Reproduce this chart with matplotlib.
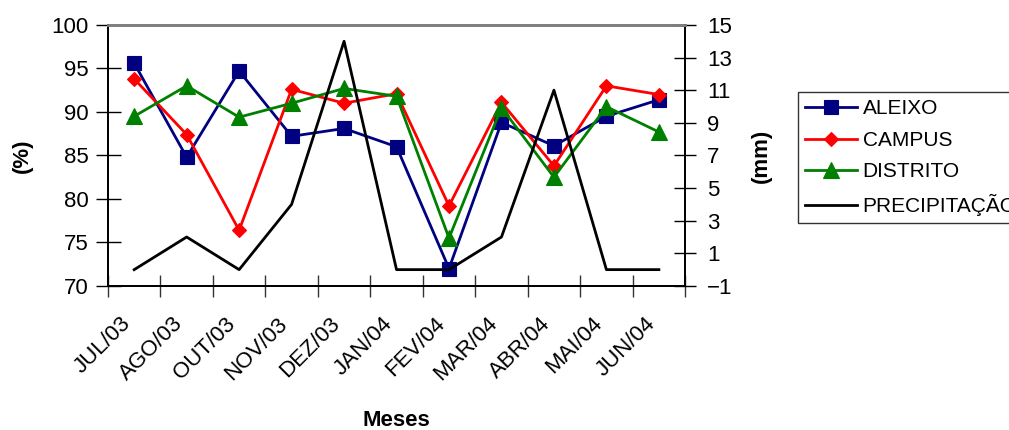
import matplotlib
matplotlib.use("Agg")
import matplotlib.pyplot as plt
from matplotlib.lines import Line2D
from matplotlib.transforms import ScaledTranslation

plt.rcParams['font.family'] = ['Liberation Sans', 'DejaVu Sans']

meses = ["JUL/03", "AGO/03", "OUT/03", "NOV/03", "DEZ/03", "JAN/04",
         "FEV/04", "MAR/04", "ABR/04", "MAI/04", "JUN/04"]
aleixo = [95.6, 84.8, 94.7, 87.2, 88.1, 86.0, 72.0, 88.8, 86.1, 89.5, 91.4]
campus = [93.8, 87.4, 76.4, 92.6, 91.0, 92.1, 79.2, 91.1, 83.8, 93.0, 92.0]
distrito = [89.5, 93.0, 89.4, 91.0, 92.7, 91.8, 75.5, 90.5, 82.5, 90.6, 87.7]
precipitacao = [0, 2, 0, 4, 14, 0, 0, 2, 11, 0, 0]

AZUL, VERMELHO, VERDE = '#000080', '#ff0000', '#008000'

fig = plt.figure(figsize=(10.09, 4.30), dpi=100)
ax = fig.add_axes([0.107, 0.335, 0.572, 0.607])
ax2 = ax.twinx()

x = list(range(len(meses)))
ax.plot(x, aleixo, color=AZUL, lw=2, marker='s', ms=9.5, mew=0.8, label='ALEIXO', zorder=3)
ax.plot(x, campus, color=VERMELHO, lw=2, marker='D', ms=7.5, mew=0.8, label='CAMPUS', zorder=3)
ax.plot(x, distrito, color=VERDE, lw=2, marker='^', ms=11, mew=0.8, label='DISTRITO', zorder=3)
ax2.plot(x, precipitacao, color='black', lw=2, label='PRECIPITAÇÃO')

ax.set_xlim(-0.5, len(meses) - 0.5)
ax.set_ylim(70, 100)
ax.set_yticks(range(70, 101, 5))
ax2.set_ylim(-1, 15)
ax2.set_yticks(range(-1, 16, 2))

# category boundaries carry the tick marks, category centres carry the labels
ax.set_xticks([i - 0.5 for i in range(len(meses) + 1)])
ax.set_xticklabels([])
ax.set_xticks(x, minor=True)
ax.set_xticklabels(meses, minor=True, rotation=45, ha='right', va='center',
                   rotation_mode='anchor', fontsize=16)
ax.tick_params(axis='x', which='minor', length=0, pad=25)
ax.tick_params(axis='x', which='major', direction='inout', length=16, width=1, color='#333333')
ax.tick_params(axis='y', direction='inout', length=18, width=1, labelsize=16, pad=5)
ax2.tick_params(axis='y', direction='inout', length=16, width=1, labelsize=16, pad=8)

shift = ScaledTranslation(-7 / 100, 0, fig.dpi_scale_trans)
for lab in ax.get_xticklabels(minor=True):
    lab.set_transform(lab.get_transform() + shift)

for a in (ax, ax2):
    a.spines['top'].set_color('#808080')
    a.spines['top'].set_linewidth(2)
    a.spines['left'].set_color('black')
    a.spines['left'].set_linewidth(1.3)
    a.spines['right'].set_color('black')
    a.spines['right'].set_linewidth(1.3)
    a.spines['bottom'].set_linewidth(1.3)

ax.set_ylabel('(%)', fontsize=16, fontweight='bold', labelpad=13)
ax2.set_ylabel('(mm)', fontsize=16, fontweight='bold', labelpad=13)
ax.set_xlabel('Meses', fontsize=16, fontweight='bold')
ax.xaxis.set_label_coords(0.5, -0.475)

handles = [
    Line2D([], [], color=AZUL, lw=2, marker='s', ms=9.5, mew=0.8),
    Line2D([], [], color=VERMELHO, lw=2, marker='D', ms=7.5, mew=0.8),
    Line2D([], [], color=VERDE, lw=2, marker='^', ms=11, mew=0.8),
    Line2D([], [], color='black', lw=2),
]
labels = ['ALEIXO', 'CAMPUS', 'DISTRITO', 'PRECIPITAÇÃO']
leg = fig.legend(handles, labels, loc='upper left',
                 bbox_to_anchor=(798 / 1009, 1 - 92 / 430),
                 fontsize=15, frameon=True, fancybox=False,
                 borderpad=0.35, labelspacing=0.6, handlelength=2.5,
                 handletextpad=0.25, borderaxespad=0)
leg.get_frame().set_edgecolor('black')
leg.get_frame().set_linewidth(1)

fig.savefig('out.png', dpi=100)
